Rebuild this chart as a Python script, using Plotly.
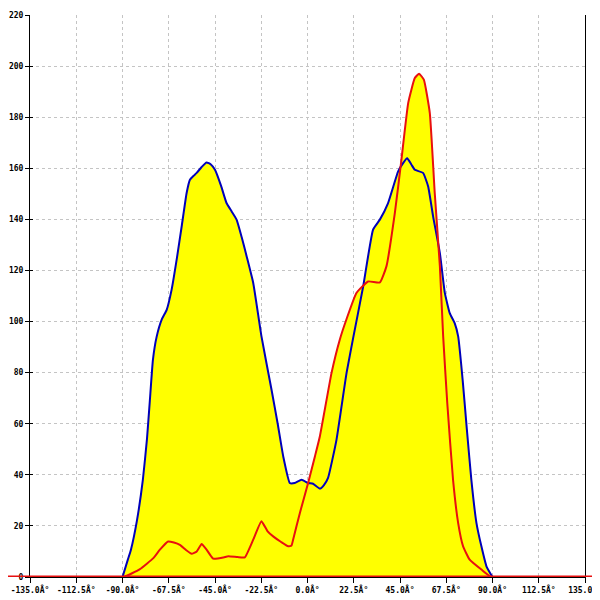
import plotly.graph_objects as go

# Blue series (angle in degrees, value)
blue_angle = [-90, -87.4, -85.9, -83, -80.1, -78.1, -76.7, -75.2, -73.4, -70.8, -68.5, -66.1,
              -63.5, -61.2, -58.8, -57.2, -55.5, -53.9, -51.5, -49.1, -47, -45, -42, -39.4,
              -36.9, -34.5, -32, -29.6, -26.4, -22.4, -17.5, -14.5, -11.8, -8.6, -6.2, -2.9,
              0.3, 2.7, 6.0, 8, 10.0, 14.1, 19.0, 22.2, 27.1, 31.9, 35.2, 39.2, 44.1, 46.5,
              48.5, 50.5, 52.2, 56.2, 58.7, 61.1, 64.4, 66.8, 69.2, 71.6, 73.3, 75.5, 77.5,
              79.7, 82.2, 84.6, 87.1, 90]
blue_value = [0, 6.8, 10.7, 22, 38, 54, 69, 85, 94, 101, 104.6, 112.5,
              125, 137.3, 150.3, 155.5, 157, 158.2, 160.5, 162.3, 161.5, 159.4, 153, 146.4,
              143.1, 139.9, 133, 125.5, 115.1, 94.2, 73.3, 60, 47.2, 36.8, 36.8, 38.1,
              36.8, 36.5, 34.6, 36, 38.8, 53.7, 79.9, 93.5, 113.8, 136.0, 139.9, 146.4, 158.8, 162,
              163.9, 161.5, 159.4, 158.2, 152.9, 141.2, 126.8, 111.2, 103.3, 99.4, 94.2, 77, 58,
              38.1, 21.1, 12.0, 4.1, 0]

# Red series
red_angle = [-135, -89.6, -81.5, -75, -71.8, -67.8, -65, -62.1, -59, -56.4, -53.9, -51.5,
             -49.1, -45.9, -40.2, -38.6, -34, -30.5, -26.4, -22.4, -19.5, -16.7, -13, -9.4,
             -7.8, -7.0, -3.7, 0.3, 3.6, 6.0, 11.7, 15.7, 19, 23.8, 29.5, 35.2, 38.4, 42.5,
             45.7, 49.0, 52.2, 54.3, 56.6, 59.5, 61.9, 64.4, 66.0, 68, 70.8, 73.3, 75.7,
             78.9, 84.6, 89.5, 135]
red_value = [0, 0, 3.1, 7.4, 10.7, 13.9, 13.5, 12.6, 10.5, 9.1, 10.0, 12.9,
             10.7, 7.2, 7.8, 8.1, 7.8, 7.7, 14.6, 21.8, 18, 15.9, 13.8, 12.0,
             12.3, 14.6, 25.1, 36.8, 47.2, 55.0, 79.9, 92.9, 101, 111.2, 115.7, 115.3, 121.6, 142.5,
             163.4, 185.6, 195.3, 197.0, 194.7, 181.6, 150.3, 121.6, 94.2, 68, 38.1, 21.1, 12.0,
             6.8, 2.9, 0, 0]

x_ticks = [-135 + 22.5 * i for i in range(13)]
x_tick_labels = [f"{v:.1f}Â°" for v in x_ticks]
y_ticks = list(range(0, 221, 20))

FILL = "#ffff00"
BLUE = "#0000bb"
RED = "#e81010"
GRID = "#c4c4c4"
FONT = dict(family="DejaVu Sans Mono", size=8, color="#000000", weight="bold")

fig = go.Figure()
fig.add_trace(go.Scatter(x=blue_angle, y=blue_value, mode="lines", fill="tozeroy",
                         fillcolor=FILL, line=dict(width=0, shape="spline", smoothing=0.4),
                         hoverinfo="skip", showlegend=False))
fig.add_trace(go.Scatter(x=red_angle, y=red_value, mode="lines", fill="tozeroy",
                         fillcolor=FILL, line=dict(width=0, shape="spline", smoothing=0.4),
                         hoverinfo="skip", showlegend=False))
fig.add_trace(go.Scatter(x=blue_angle, y=blue_value, mode="lines",
                         line=dict(color=BLUE, width=2, shape="spline", smoothing=0.4),
                         showlegend=False))
fig.add_trace(go.Scatter(x=red_angle, y=red_value, mode="lines",
                         line=dict(color=RED, width=2, shape="spline", smoothing=0.4),
                         showlegend=False))
# dummy trace to show inner y ticks
fig.add_trace(go.Scatter(x=[None], y=[None], yaxis="y2", showlegend=False, hoverinfo="skip"))

fig.add_shape(type="line", xref="paper", yref="y", x0=-0.04, x1=1.045, y0=0, y1=0,
              line=dict(color=RED, width=3), layer="above")

fig.update_layout(
    width=600, height=600,
    margin=dict(l=22, r=23, t=7, b=31, autoexpand=False),
    paper_bgcolor="white", plot_bgcolor="white",
    showlegend=False,
    xaxis=dict(range=[-135, 135], tickvals=x_ticks, ticktext=x_tick_labels,
               automargin=False,
               showgrid=True, gridcolor=GRID, griddash="3px,3px", gridwidth=1,
               zeroline=False, showline=True, linecolor="black", linewidth=1,
               ticks="outside", ticklen=5, tickcolor="black", tickfont=FONT),
    yaxis=dict(range=[0, 220], tickvals=y_ticks, automargin=False,
               showgrid=True, gridcolor=GRID, griddash="3px,3px", gridwidth=1,
               zeroline=False, showline=True, mirror=True, linecolor="black", linewidth=1,
               ticks="outside", ticklen=4, tickcolor="black", tickfont=FONT),
    yaxis2=dict(range=[0, 220], tickvals=y_ticks, overlaying="y", side="left",
                automargin=False,
                showgrid=False, zeroline=False, showline=False,
                ticks="inside", ticklen=3, tickcolor="black", showticklabels=False),
)

fig.write_html("out.html")
